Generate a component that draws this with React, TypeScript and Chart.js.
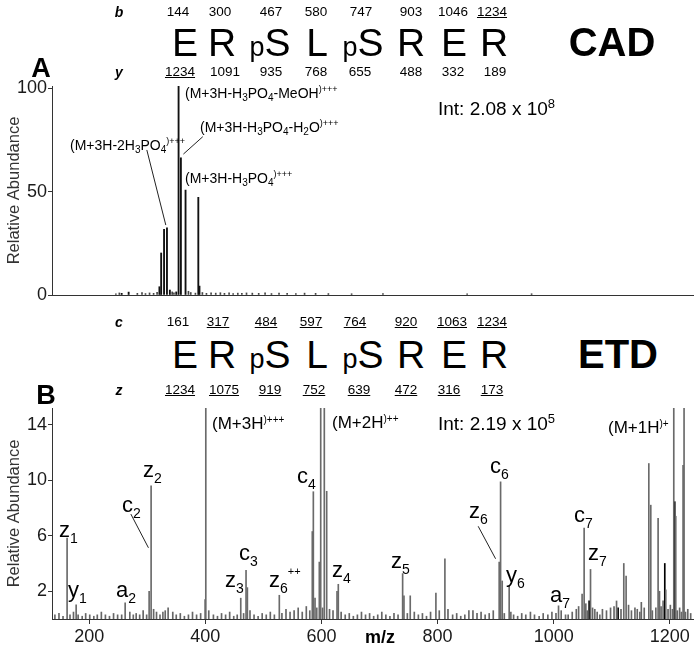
import React, { useEffect, useRef } from "react";
import { Chart, registerables } from "chart.js";
Chart.register(...registerables);

const FONT = '"Liberation Sans", Arial, Helvetica, sans-serif';

// ---------- shared m/z axis ----------
const mzTicks = [200, 400, 600, 800, 1000, 1200];
const mzMin = 136;
const mzMax = 1240;

// ---------- Panel A : CAD ----------
const cadTicks = [0, 50, 100];
const cadMz = [256, 268, 321, 324, 329, 334, 339, 350, 354, 358, 366, 388, 390];
const cadAbund = [0.8, 1.4, 4, 20.3, 31.7, 32.5, 2.4, 1.5, 101, 66.3, 50.7, 47.2, 4.3];
const cadNoiseMz = [246, 252, 283, 291, 297, 304, 311, 317, 343, 346, 371, 375, 383, 395, 402, 410, 418, 426, 433, 441, 448, 456, 463, 471, 481, 492, 503, 514, 527, 541, 556, 571, 590, 612, 652, 706, 851, 962];
const cadNoiseAbund = [0.6, 1.0, 0.8, 1.2, 0.7, 1.0, 0.8, 1.3, 1.5, 1.1, 1.8, 1.2, 0.9, 1.2, 0.8, 1.0, 0.9, 1.1, 0.8, 1.0, 0.7, 0.9, 0.8, 1.0, 0.9, 0.8, 1.0, 0.7, 0.9, 0.8, 0.7, 0.9, 0.8, 0.7, 0.6, 0.7, 0.6, 0.6];
// pointer lines [mz1, abund1, mz2, abund2]
const cadPointers = [
  [299.3, 70.1, 332, 33.8],
  [362.3, 68.1, 395.7, 76.5],
];

// ---------- Panel B : ETD ----------
const etdTicks = [2, 6, 10, 14];
const etdMz = [
  162, 177.6, 262, 276, 303.3, 306.7, 322, 327, 399.7, 400.9,
  461.1, 470.2, 472.5, 527.5, 584.3, 586.1, 589, 592, 596.4, 598.8,
  605, 609.1, 626.9, 629.1, 739.9, 742.2, 753, 797.2, 812.7, 854,
  906.2, 908.6, 911.4, 923.4, 926.3, 1008.4, 1020.5, 1049, 1052.5, 1055.4,
  1063.5, 1070.9, 1079.5, 1108.3, 1120.8, 1124.8, 1148.4, 1163.9, 1167.3, 1176,
  1179.9, 1182.3, 1188.5, 1193.1, 1204.6, 1206.9, 1210.3, 1220.1, 1222.9, 1224.6,
];
const etdAbund = [
  5.83, 1.02, 1.17, 0.3, 2.0, 9.6, 0.3, 0.5, 1.4, 60,
  1.5, 3.5, 2.26, 1.71, 6.3, 9.17, 1.5, 0.8, 4.1, 80,
  50, 9.2, 2.0, 2.5, 3.27, 1.67, 1.67, 1.86, 4.33, 0.6,
  4.1, 9.88, 2.74, 2.38, 0.5, 0.95, 0.3, 1.8, 6.55, 1.1,
  3.57, 0.7, 0.3, 1.3, 4.0, 3.1, 0.5, 11.2, 8.2, 0.8,
  7.26, 2.0, 1.3, 2.1, 0.7, 30, 7.4, 0.5, 11.07, 30,
];
const etdDarkMz = [1061.1, 1111, 1191.4, 1208.6];
const etdDarkAbund = [1.3, 0.8, 4.0, 8.45];
const etdNoiseMz = [
  141, 148, 155, 167, 173, 181, 188, 194, 201, 208,
  214, 221, 228, 235, 242, 249, 256, 270, 281, 287,
  293, 299, 311, 316, 331, 336, 344, 350, 357, 364,
  371, 378, 385, 392, 406, 414, 421, 428, 435, 442,
  449, 455, 466, 477, 484, 491, 498, 505, 512, 519,
  532, 539, 546, 553, 560, 567, 574, 580, 602, 614,
  620, 634, 641, 648, 655, 662, 669, 676, 683, 690,
  697, 704, 711, 718, 725, 732, 748, 760, 767, 774,
  781, 788, 803, 818, 826, 833, 840, 847, 861, 868,
  875, 882, 889, 896, 915, 931, 938, 945, 952, 960,
  967, 975, 982, 990, 997, 1004, 1013, 1025, 1032, 1039,
  1043, 1058, 1067, 1075, 1084, 1091, 1098, 1104, 1116, 1129,
  1134, 1140, 1144, 1151, 1156, 1170, 1185, 1197, 1201, 1213,
  1217, 1227, 1231, 1236,
];
const etdNoiseAbund = [
  0.3, 0.4, 0.2, 0.3, 0.5, 0.3, 0.2, 0.4, 0.3, 0.2,
  0.3, 0.5, 0.3, 0.2, 0.4, 0.3, 0.3, 0.5, 0.4, 0.3,
  0.6, 0.3, 0.7, 0.5, 0.6, 0.8, 0.5, 0.3, 0.4, 0.2,
  0.3, 0.5, 0.3, 0.4, 0.6, 0.3, 0.2, 0.4, 0.3, 0.5,
  0.2, 0.3, 0.4, 0.6, 0.3, 0.2, 0.4, 0.3, 0.5, 0.3,
  0.4, 0.7, 0.5, 0.6, 0.8, 0.5, 0.9, 0.6, 0.8, 0.7,
  0.6, 0.5, 0.3, 0.4, 0.2, 0.3, 0.5, 0.3, 0.4, 0.2,
  0.3, 0.5, 0.3, 0.2, 0.4, 0.3, 0.4, 0.5, 0.3, 0.4,
  0.2, 0.5, 0.6, 0.7, 0.3, 0.4, 0.2, 0.3, 0.6, 0.4,
  0.5, 0.3, 0.4, 0.6, 0.4, 0.3, 0.2, 0.4, 0.3, 0.5,
  0.3, 0.2, 0.4, 0.3, 0.5, 0.4, 0.6, 0.3, 0.5, 0.7,
  0.9, 0.6, 0.8, 0.5, 0.7, 0.6, 0.8, 0.9, 0.7, 1.0,
  0.6, 0.8, 0.7, 1.2, 0.8, 0.6, 0.9, 0.7, 1.0, 0.6,
  0.8, 0.5, 0.7, 0.4,
];
const etdPointers = [
  [271.8, 7.56, 302.1, 5.13],
  [870, 6.68, 900, 4.34],
];

// ---------- sequence header ----------
const residues = ["E", "R", "pS", "L", "pS", "R", "E", "R"];
const bIons = ["144", "300", "467", "580", "747", "903", "1046", "1234"];
const bSeen = [false, false, false, false, false, false, false, true];
const yIons = ["1234", "1091", "935", "768", "655", "488", "332", "189"];
const ySeen = [true, false, false, false, false, false, false, false];
const cIons = ["161", "317", "484", "597", "764", "920", "1063", "1234"];
const cSeen = [false, true, true, true, true, true, true, true];
const zIons = ["1234", "1075", "919", "752", "639", "472", "316", "173"];
const zSeen = [true, true, true, true, true, true, true, true];

// layout columns (px centres)
const colB = [178, 220, 271, 316, 361, 411, 453, 492];
const colRes = [185, 222, 270, 317, 363, 411, 454, 494];
const colY = [180, 225, 271, 316, 360, 411, 453, 495];
const colC = [178, 218, 266, 311, 355, 406, 452, 492];
const colZ = [180, 224, 270, 314, 359, 406, 449, 492];

const pts = (xs: number[], ys: number[]) => xs.map((x, i) => ({ x, y: ys[i] }));

const bars = (data: any[], color: string, thick: number) => ({
  type: "bar" as const,
  data,
  backgroundColor: color,
  borderWidth: 0,
  barThickness: thick,
  grouped: false,
});

const pointerPlugin = (lines: number[][]) => ({
  id: "pointers",
  afterDatasetsDraw(chart: any) {
    const { ctx } = chart;
    const xs = chart.scales.x;
    const ys = chart.scales.y;
    ctx.save();
    ctx.strokeStyle = "#222";
    ctx.lineWidth = 1;
    lines.forEach(([m1, v1, m2, v2]) => {
      ctx.beginPath();
      ctx.moveTo(xs.getPixelForValue(m1), ys.getPixelForValue(v1));
      ctx.lineTo(xs.getPixelForValue(m2), ys.getPixelForValue(v2));
      ctx.stroke();
    });
    ctx.restore();
  },
});

const yAxis = (max: number, ticks: number[]) => ({
  min: 0,
  max,
  afterBuildTicks: (s: any) => {
    s.ticks = ticks.map((v) => ({ value: v }));
  },
  afterFit: (s: any) => {
    s.width = 52;
  },
  ticks: { font: { family: FONT, size: 18 }, color: "#1a1a1a", padding: 1, callback: (v: any) => String(v) },
  grid: { display: true, drawOnChartArea: false, drawTicks: true, tickLength: 4, color: "#333" },
  border: { display: true, color: "#333", width: 1 },
  title: {
    display: true,
    text: "Relative Abundance",
    font: { family: FONT, size: 16.5 },
    color: "#333",
    padding: { top: 5, bottom: 0 },
  },
});

const xAxis = (showTicks: boolean, height: number) => ({
  type: "linear" as const,
  min: mzMin,
  max: mzMax,
  offset: false,
  afterBuildTicks: (s: any) => {
    s.ticks = mzTicks.map((v) => ({ value: v }));
  },
  afterFit: (s: any) => {
    s.height = height;
  },
  ticks: {
    display: showTicks,
    font: { family: FONT, size: 18 },
    color: "#1a1a1a",
    padding: 2,
    maxRotation: 0,
    autoSkip: false,
    callback: (v: any) => String(v),
  },
  grid: { display: showTicks, offset: false, drawOnChartArea: false, drawTicks: showTicks, tickLength: 5, color: "#333" },
  border: { display: true, color: "#333", width: 1 },
});

const Sub = ({ s, d, children }: any) => (
  <span style={{ fontSize: s, position: "relative", top: d }}>{children}</span>
);

function Txt({ x, cy, size, k = 0.49, center = false, bold = false, italic = false, underline = false, children }: any) {
  const style: React.CSSProperties = {
    position: "absolute",
    left: x,
    top: cy - k * size,
    fontSize: size,
    lineHeight: 1,
    whiteSpace: "nowrap",
    fontWeight: bold ? "bold" : "normal",
    fontStyle: italic ? "italic" : "normal",
    textDecoration: underline ? "underline" : "none",
    transform: center ? "translateX(-50%)" : undefined,
  };
  return <div style={style}>{children}</div>;
}

const Ion = ({ x, cy, l, s, sup }: any) => (
  <Txt x={x} cy={cy} size={22} k={0.59}>
    {l}
    <Sub s={14} d={6}>{s}</Sub>
    {sup ? <Sub s={11} d={-12}>{sup}</Sub> : null}
  </Txt>
);

const CadLabel = ({ x, cy, parts }: any) => (
  <Txt x={x} cy={cy} size={14}>
    {parts.map((p: any, i: number) =>
      typeof p === "string" ? (
        <span key={i}>{p}</span>
      ) : p.sub ? (
        <Sub key={i} s={10} d={3}>{p.sub}</Sub>
      ) : (
        <Sub key={i} s={9} d={-6}>{p.sup}</Sub>
      )
    )}
  </Txt>
);

function NumRow({ cols, vals, seen, cy, letter }: any) {
  return (
    <>
      <Txt x={119} cy={cy} size={14} center bold italic>{letter}</Txt>
      {vals.map((v: string, i: number) => (
        <Txt key={i} x={cols[i]} cy={cy} size={13.5} center underline={seen[i]}>{v}</Txt>
      ))}
    </>
  );
}

function ResRow({ cy }: any) {
  return (
    <>
      {residues.map((r, i) => (
        <Txt key={i} x={colRes[i]} cy={cy} size={39} center>
          {r.length > 1 ? (
            <>
              <span style={{ fontSize: 27 }}>{r[0]}</span>
              {r[1]}
            </>
          ) : (
            r
          )}
        </Txt>
      ))}
    </>
  );
}

export default function App() {
  const refA = useRef<HTMLCanvasElement>(null);
  const refB = useRef<HTMLCanvasElement>(null);

  useEffect(() => {
    const common = {
      animation: false as const,
      responsive: false,
      plugins: { legend: { display: false }, tooltip: { enabled: false } },
    };
    const chartA = new Chart(refA.current as HTMLCanvasElement, {
      type: "bar",
      data: {
        datasets: [
          bars(pts(cadNoiseMz, cadNoiseAbund), "#444", 1) as any,
          bars(pts(cadMz, cadAbund), "#111", 1.2) as any,
        ],
      },
      options: {
        ...common,
        layout: { padding: { top: 86, right: 7, left: 0, bottom: 0 } },
        scales: { x: xAxis(false, 25) as any, y: yAxis(101, cadTicks) as any },
      },
      plugins: [pointerPlugin(cadPointers)],
    });
    const chartB = new Chart(refB.current as HTMLCanvasElement, {
      type: "bar",
      data: {
        datasets: [
          bars(pts(etdNoiseMz, etdNoiseAbund), "#666", 1) as any,
          bars(pts(etdMz, etdAbund), "#6a6a6a", 1) as any,
          bars(pts(etdDarkMz, etdDarkAbund), "#000", 1) as any,
        ],
      },
      options: {
        ...common,
        layout: { padding: { top: 28, right: 7, left: 0, bottom: 0 } },
        scales: { x: xAxis(true, 32) as any, y: yAxis(15.2, etdTicks) as any },
      },
      plugins: [pointerPlugin(etdPointers)],
    });
    return () => {
      chartA.destroy();
      chartB.destroy();
    };
  }, []);

  return (
    <div
      style={{
        position: "fixed",
        left: 0,
        top: 0,
        width: 700,
        height: 651,
        background: "#fff",
        color: "#000",
        fontFamily: FONT,
        overflow: "hidden",
      }}
    >
      <canvas ref={refA} width={700} height={320} style={{ position: "absolute", left: 0, top: 0 }} />
      <canvas ref={refB} width={700} height={271} style={{ position: "absolute", left: 0, top: 380 }} />

      {/* CAD header */}
      <NumRow cols={colB} vals={bIons} seen={bSeen} cy={12} letter="b" />
      <ResRow cy={42} />
      <NumRow cols={colY} vals={yIons} seen={ySeen} cy={72} letter="y" />
      <Txt x={612} cy={42} size={40} center bold>CAD</Txt>
      <Txt x={41} cy={68} size={27} center bold>A</Txt>

      {/* CAD annotations */}
      <CadLabel x={185} cy={93} parts={["(M+3H-H", { sub: "3" }, "PO", { sub: "4" }, "-MeOH", { sup: ")+++" }]} />
      <CadLabel x={200} cy={127} parts={["(M+3H-H", { sub: "3" }, "PO", { sub: "4" }, "-H", { sub: "2" }, "O", { sup: ")+++" }]} />
      <CadLabel x={185} cy={178} parts={["(M+3H-H", { sub: "3" }, "PO", { sub: "4" }, { sup: ")+++" }]} />
      <CadLabel x={70} cy={145} parts={["(M+3H-2H", { sub: "3" }, "PO", { sub: "4" }, { sup: ")+++" }]} />
      <Txt x={438} cy={108} size={19}>
        Int: 2.08 x 10<Sub s={13} d={-7}>8</Sub>
      </Txt>

      {/* ETD header */}
      <NumRow cols={colC} vals={cIons} seen={cSeen} cy={322} letter="c" />
      <ResRow cy={354} />
      <NumRow cols={colZ} vals={zIons} seen={zSeen} cy={390} letter="z" />
      <Txt x={618} cy={354} size={40} center bold>ETD</Txt>
      <Txt x={46} cy={395} size={27} center bold>B</Txt>

      {/* ETD annotations */}
      <Txt x={212} cy={423} size={17}>
        (M+3H<Sub s={10} d={-6}>)+++</Sub>
      </Txt>
      <Txt x={332} cy={422} size={17}>
        (M+2H<Sub s={10} d={-6}>)++</Sub>
      </Txt>
      <Txt x={438} cy={423} size={19}>
        Int: 2.19 x 10<Sub s={13} d={-7}>5</Sub>
      </Txt>
      <Txt x={608} cy={427} size={17}>
        (M+1H<Sub s={10} d={-6}>)+</Sub>
      </Txt>
      <Ion x={59} cy={532} l="z" s="1" />
      <Ion x={68} cy={592} l="y" s="1" />
      <Ion x={116} cy={592} l="a" s="2" />
      <Ion x={122} cy={507} l="c" s="2" />
      <Ion x={143} cy={472} l="z" s="2" />
      <Ion x={225} cy={582} l="z" s="3" />
      <Ion x={239} cy={555} l="c" s="3" />
      <Ion x={269} cy={582} l="z" s="6" sup="++" />
      <Ion x={297} cy={478} l="c" s="4" />
      <Ion x={332} cy={572} l="z" s="4" />
      <Ion x={391} cy={563} l="z" s="5" />
      <Ion x={469} cy={513} l="z" s="6" />
      <Ion x={490} cy={468} l="c" s="6" />
      <Ion x={506} cy={577} l="y" s="6" />
      <Ion x={550} cy={597} l="a" s="7" />
      <Ion x={574} cy={517} l="c" s="7" />
      <Ion x={588} cy={555} l="z" s="7" />
      <Txt x={380} cy={637} size={18} center bold>m/z</Txt>
    </div>
  );
}
